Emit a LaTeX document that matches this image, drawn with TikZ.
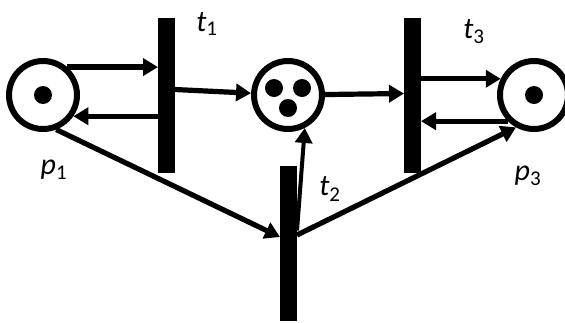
\documentclass[tikz,border=0pt]{standalone}
\usepackage{fontspec}
\setmainfont{Carlito}
\usetikzlibrary{arrows.meta, positioning, calc}

\begin{document}
\begin{tikzpicture}[x=1pt, y=-1pt, >={Triangle[length=15pt, width=17pt]}, line width=5.2pt,
  place/.style={circle, draw, line width=6pt, minimum size=68pt, inner sep=0pt},
  transition/.style={rectangle, fill=black, minimum width=17pt, minimum height=155pt,
    inner sep=0pt, outer sep=0pt},
  lbl/.style={font=\fontsize{30}{32}\selectfont, inner sep=0pt}]

% Canvas (the right place and the lower bar run off the edge)
\clip (0,0) rectangle (565,322);

% Places
\node[place] (p1) at (43,95) {};
\node[place] (p2) at (288,95) {};
\node[place] (p3) at (534,95) {};

% Transitions
\node[transition] (t1) at (166.5,95.5) {};
\node[transition] (t2) at (288.5,243.5) {};
\node[transition] (t3) at (412.5,95.5) {};

% Tokens
\fill (p1) circle (9pt);
\fill (p3) circle (9pt);
\fill ($(p2)+(-14,-7)$) circle (9pt);
\fill ($(p2)+(14,-7)$) circle (9pt);
\fill ($(p2)+(0,13)$) circle (9pt);

% Labels
\node[lbl] (lp1) at (54,170) {\textit{p}\textsubscript{1}};
\node[lbl] (lp3) at (528,176) {\textit{p}\textsubscript{3}};
\node[lbl] (lt1) at (207,24) {\textit{t}\textsubscript{1}};
\node[lbl] (lt2) at (330,189) {\textit{t}\textsubscript{2}};
\node[lbl] (lt3) at (474,32) {\textit{t}\textsubscript{3}};

% Arcs around t1
\draw[->] (p1.49) -- (p1.49 -| t1.west);
\draw[->] (p1.-35 -| t1.west) -- (p1.-35);
\draw[->] ($(t1.east)+(0,-6)$) -- (p2);

% Arcs around t3
\draw[->] (p2) -- ($(t3.west)+(0,-2)$);
\draw[->] (p3.154 -| t3.east) -- (p3.154);
\draw[->] (p3.225) -- (p3.225 -| t3.east);

% Arcs around t2
\draw[->] (p1.-69) -- ($(t2.west)+(0,-6.5)$);
\draw[->] ($(t2.east)+(0,-8.5)$) -- (p3.241);
\draw[->, line width=4pt] ($(t2.east)+(0,-13)$) -- (p2.-63);

\end{tikzpicture}
\end{document}
